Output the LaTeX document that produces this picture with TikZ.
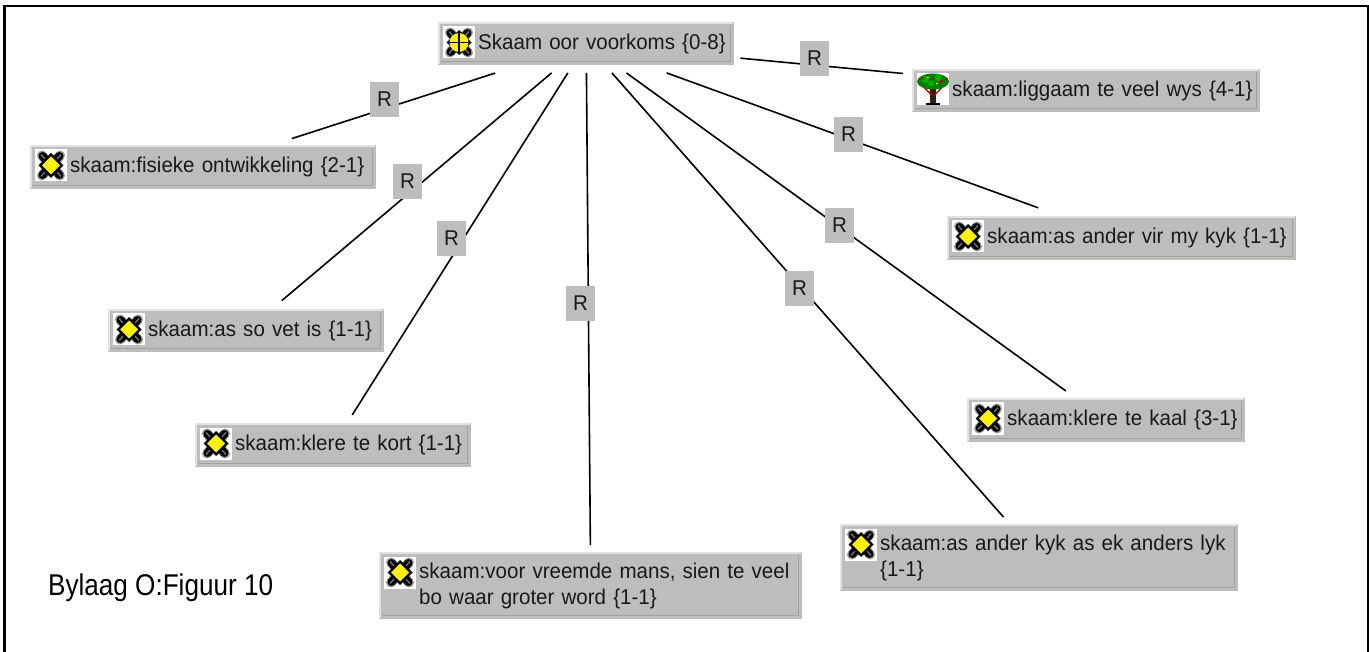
\documentclass[tikz,border=0pt]{standalone}
\usepackage{fontspec}
\setmainfont{Liberation Sans}
\newfontfamily\itemfont[FakeStretch=0.96]{Liberation Sans}
\usetikzlibrary{calc}
\definecolor{boxgray}{HTML}{BDBDBD}
\definecolor{boxlight}{HTML}{E2E2E2}
\definecolor{boxdark}{HTML}{A3A397}
\tikzset{
  x=1pt,y=-1pt,
  frameline/.style={draw=black,line width=2.7pt},
  conn/.style={draw=black,line width=1.6pt},
  rlabel/.style={fill=boxgray,minimum width=29pt,minimum height=35pt,inner sep=0pt,font=\itemfont\fontsize{21.4}{24}\selectfont,text=black!90},
  item/.style={fill=boxgray,draw=none,inner sep=0pt,font=\itemfont\fontsize{21.4}{26}\selectfont,text=black!90,anchor=north west},
  caption/.style={inner sep=0pt,font=\fontsize{30}{34}\selectfont,text=black,anchor=west},
  spkbase/.pic={
    \fill[white] (0,0) rectangle (32,32);
    \draw[black!40,line width=10pt,line cap=round] (7,6)--(25,26) (25,6)--(7,26);
    \draw[black,line width=8pt,line cap=round] (7.5,6.5)--(24.5,25.5) (24.5,6.5)--(7.5,25.5);
    \draw[black!55,line width=1.4pt] (6,5)--(10,9.5) (26,5)--(22,9.5) (6,27)--(10,22.5) (26,27)--(22,22.5);
    \fill[black] (16,3.5)--(28.5,16)--(16,28.5)--(3.5,16)--cycle;
  },
  spk/.pic={
    \pic {spkbase};
    \fill[yellow] (16,7)--(25,16)--(16,25)--(7,16)--cycle;
  },
  spkcross/.pic={
    \pic {spkbase};
    \fill[yellow] (16,16) circle (9.5);
    \draw[black,line width=1.4pt] (16,6.5)--(16,25.5) (6.5,16)--(25.5,16);
  },
  tree/.pic={
    \fill[white] (0,0) rectangle (32,32);
    \fill[black!75!brown] (13,15) rectangle (19,31);
    \fill[black] (9,30) rectangle (23,32);
    \draw[red!70!black,line width=1.4pt] (15,22)--(6,13) (17,22)--(26,13);
    \fill[green!50!black] (16,8) ellipse (16 and 8);
    \fill[green!70!black] (8,6) circle (3.5) (21,4) circle (3.5) (14,10) circle (3);
    \fill[red!85!black] (6,5) circle (1.3) (24,8) circle (1.8) (29,6) circle (1.2) (16,5) circle (1.2);
    \fill[yellow!80!green] (11,4) circle (1.1) (20,10) circle (1.1);
  }
}
% \itembox{name}{x}{y}{w}{h}{icon}{text}
\newcommand{\itembox}[7]{%
  \node[item,minimum width=#4pt,minimum height=#5pt,text width=#4pt] (#1) at (#2,#3)
     {\raggedright\leftskip=40pt\relax #7\par};
  \draw[boxlight,line width=1.6pt] ($(#1.south west)+(1,-1)$) -- ($(#1.north west)+(1,1)$) -- ($(#1.north east)+(-1,1)$);
  \draw[boxdark,line width=1.4pt] ($(#1.south west)+(3,-4)$) -- ($(#1.south east)+(-4,-4)$) -- ($(#1.north east)+(-4,3)$);
  \pic at ($(#1.north west)+(5,4.5)$) {#6};
}
\begin{document}
\begin{tikzpicture}
\useasboundingbox (0,0) rectangle (1369,652);
\fill[white] (0,0) rectangle (1369,652);
\draw[frameline] (4.5,652) -- (4.5,6) -- (1368,6) -- (1368,652);
\itembox{top}{438}{22}{296}{43}{spkcross}{Skaam oor voorkoms \{0-8\}}
\itembox{fis}{30}{145}{346}{44}{spk}{skaam:fisieke ontwikkeling \{2-1\}}
\itembox{vet}{108}{309}{276}{43}{spk}{skaam:as so vet is \{1-1\}}
\itembox{kort}{195}{423}{276}{44}{spk}{skaam:klere te kort \{1-1\}}
\itembox{vre}{379}{552}{423}{67}{spk}{skaam:voor vreemde mans, sien te veel\\bo waar groter word \{1-1\}}
\itembox{lyk}{840}{524}{398}{67}{spk}{skaam:as ander kyk as ek anders lyk\\\{1-1\}}
\itembox{kaal}{967}{398}{278}{44}{spk}{skaam:klere te kaal \{3-1\}}
\itembox{kyk}{947}{216}{349}{44}{spk}{skaam:as ander vir my kyk \{1-1\}}
\itembox{lig}{912}{69}{348}{43}{tree}{skaam:liggaam te veel wys \{4-1\}}
\draw[conn,shorten <=25pt,shorten >=21pt] (top) -- (fis);
\draw[conn,shorten <=11.6pt,shorten >=13pt] (top) -- (vet);
\draw[conn,shorten <=8.9pt,shorten >=9.5pt] (top) -- (kort);
\draw[conn,shorten <=7.5pt,shorten >=7pt] (top) -- (vre);
\draw[conn,shorten <=10pt,shorten >=9.3pt] (top) -- (lyk);
\draw[conn,shorten <=12.8pt,shorten >=12pt] (top) -- (kaal);
\draw[conn,shorten <=22pt,shorten >=24pt] (top) -- (kyk);
\draw[conn,shorten <=6pt,shorten >=9pt] (top) -- (lig);
\node[rlabel] (r1) at (384.5,99.5) {R};
\node[rlabel] (r2) at (407.5,181.5) {R};
\node[rlabel] (r3) at (451.5,238.3) {R};
\node[rlabel] (r4) at (580.5,303.3) {R};
\node[rlabel] (r5) at (799.5,288.3) {R};
\node[rlabel] (r6) at (839.5,225.3) {R};
\node[rlabel] (r7) at (848.5,134.3) {R};
\node[rlabel] (r8) at (814.5,58.3) {R};
\node[caption] (cap) at (48,588) {\scalebox{.87}[1]{Bylaag O:Figuur 10}};
\end{tikzpicture}
\end{document}
